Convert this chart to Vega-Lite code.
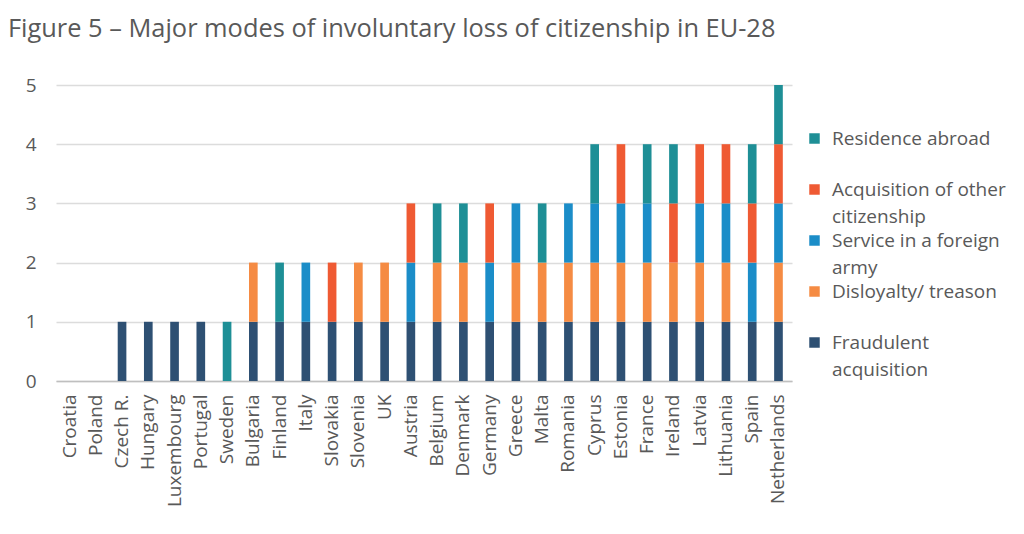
{
  "$schema": "https://vega.github.io/schema/vega-lite/v6.json",
  "width": 736,
  "height": 296,
  "autosize": {"type": "none"},
  "padding": {"left": 56, "top": 85, "right": 232, "bottom": 153},
  "background": "white",
  "title": {
    "text": "Figure 5 – Major modes of involuntary loss of citizenship in EU-28",
    "anchor": "start",
    "frame": "group",
    "dx": -48,
    "offset": 34,
    "font": "Open Sans",
    "fontSize": 25.4,
    "fontWeight": "normal",
    "color": "#595959"
  },
  "config": {
    "view": {"stroke": null},
    "font": "Open Sans"
  },
  "data": {
    "values": [
      {"country": "Czech R.", "mode": "Fraudulent acquisition", "rank": 1, "n": 1},
      {"country": "Hungary", "mode": "Fraudulent acquisition", "rank": 1, "n": 1},
      {"country": "Luxembourg", "mode": "Fraudulent acquisition", "rank": 1, "n": 1},
      {"country": "Portugal", "mode": "Fraudulent acquisition", "rank": 1, "n": 1},
      {"country": "Sweden", "mode": "Residence abroad", "rank": 5, "n": 1},
      {"country": "Bulgaria", "mode": "Fraudulent acquisition", "rank": 1, "n": 1},
      {"country": "Bulgaria", "mode": "Disloyalty/ treason", "rank": 2, "n": 1},
      {"country": "Finland", "mode": "Fraudulent acquisition", "rank": 1, "n": 1},
      {"country": "Finland", "mode": "Residence abroad", "rank": 5, "n": 1},
      {"country": "Italy", "mode": "Fraudulent acquisition", "rank": 1, "n": 1},
      {"country": "Italy", "mode": "Service in a foreign army", "rank": 3, "n": 1},
      {"country": "Slovakia", "mode": "Fraudulent acquisition", "rank": 1, "n": 1},
      {"country": "Slovakia", "mode": "Acquisition of other citizenship", "rank": 4, "n": 1},
      {"country": "Slovenia", "mode": "Fraudulent acquisition", "rank": 1, "n": 1},
      {"country": "Slovenia", "mode": "Disloyalty/ treason", "rank": 2, "n": 1},
      {"country": "UK", "mode": "Fraudulent acquisition", "rank": 1, "n": 1},
      {"country": "UK", "mode": "Disloyalty/ treason", "rank": 2, "n": 1},
      {"country": "Austria", "mode": "Fraudulent acquisition", "rank": 1, "n": 1},
      {"country": "Austria", "mode": "Service in a foreign army", "rank": 3, "n": 1},
      {"country": "Austria", "mode": "Acquisition of other citizenship", "rank": 4, "n": 1},
      {"country": "Belgium", "mode": "Fraudulent acquisition", "rank": 1, "n": 1},
      {"country": "Belgium", "mode": "Disloyalty/ treason", "rank": 2, "n": 1},
      {"country": "Belgium", "mode": "Residence abroad", "rank": 5, "n": 1},
      {"country": "Denmark", "mode": "Fraudulent acquisition", "rank": 1, "n": 1},
      {"country": "Denmark", "mode": "Disloyalty/ treason", "rank": 2, "n": 1},
      {"country": "Denmark", "mode": "Residence abroad", "rank": 5, "n": 1},
      {"country": "Germany", "mode": "Fraudulent acquisition", "rank": 1, "n": 1},
      {"country": "Germany", "mode": "Service in a foreign army", "rank": 3, "n": 1},
      {"country": "Germany", "mode": "Acquisition of other citizenship", "rank": 4, "n": 1},
      {"country": "Greece", "mode": "Fraudulent acquisition", "rank": 1, "n": 1},
      {"country": "Greece", "mode": "Disloyalty/ treason", "rank": 2, "n": 1},
      {"country": "Greece", "mode": "Service in a foreign army", "rank": 3, "n": 1},
      {"country": "Malta", "mode": "Fraudulent acquisition", "rank": 1, "n": 1},
      {"country": "Malta", "mode": "Disloyalty/ treason", "rank": 2, "n": 1},
      {"country": "Malta", "mode": "Residence abroad", "rank": 5, "n": 1},
      {"country": "Romania", "mode": "Fraudulent acquisition", "rank": 1, "n": 1},
      {"country": "Romania", "mode": "Disloyalty/ treason", "rank": 2, "n": 1},
      {"country": "Romania", "mode": "Service in a foreign army", "rank": 3, "n": 1},
      {"country": "Cyprus", "mode": "Fraudulent acquisition", "rank": 1, "n": 1},
      {"country": "Cyprus", "mode": "Disloyalty/ treason", "rank": 2, "n": 1},
      {"country": "Cyprus", "mode": "Service in a foreign army", "rank": 3, "n": 1},
      {"country": "Cyprus", "mode": "Residence abroad", "rank": 5, "n": 1},
      {"country": "Estonia", "mode": "Fraudulent acquisition", "rank": 1, "n": 1},
      {"country": "Estonia", "mode": "Disloyalty/ treason", "rank": 2, "n": 1},
      {"country": "Estonia", "mode": "Service in a foreign army", "rank": 3, "n": 1},
      {"country": "Estonia", "mode": "Acquisition of other citizenship", "rank": 4, "n": 1},
      {"country": "France", "mode": "Fraudulent acquisition", "rank": 1, "n": 1},
      {"country": "France", "mode": "Disloyalty/ treason", "rank": 2, "n": 1},
      {"country": "France", "mode": "Service in a foreign army", "rank": 3, "n": 1},
      {"country": "France", "mode": "Residence abroad", "rank": 5, "n": 1},
      {"country": "Ireland", "mode": "Fraudulent acquisition", "rank": 1, "n": 1},
      {"country": "Ireland", "mode": "Disloyalty/ treason", "rank": 2, "n": 1},
      {"country": "Ireland", "mode": "Acquisition of other citizenship", "rank": 4, "n": 1},
      {"country": "Ireland", "mode": "Residence abroad", "rank": 5, "n": 1},
      {"country": "Latvia", "mode": "Fraudulent acquisition", "rank": 1, "n": 1},
      {"country": "Latvia", "mode": "Disloyalty/ treason", "rank": 2, "n": 1},
      {"country": "Latvia", "mode": "Service in a foreign army", "rank": 3, "n": 1},
      {"country": "Latvia", "mode": "Acquisition of other citizenship", "rank": 4, "n": 1},
      {"country": "Lithuania", "mode": "Fraudulent acquisition", "rank": 1, "n": 1},
      {"country": "Lithuania", "mode": "Disloyalty/ treason", "rank": 2, "n": 1},
      {"country": "Lithuania", "mode": "Service in a foreign army", "rank": 3, "n": 1},
      {"country": "Lithuania", "mode": "Acquisition of other citizenship", "rank": 4, "n": 1},
      {"country": "Spain", "mode": "Fraudulent acquisition", "rank": 1, "n": 1},
      {"country": "Spain", "mode": "Service in a foreign army", "rank": 3, "n": 1},
      {"country": "Spain", "mode": "Acquisition of other citizenship", "rank": 4, "n": 1},
      {"country": "Spain", "mode": "Residence abroad", "rank": 5, "n": 1},
      {"country": "Netherlands", "mode": "Fraudulent acquisition", "rank": 1, "n": 1},
      {"country": "Netherlands", "mode": "Disloyalty/ treason", "rank": 2, "n": 1},
      {"country": "Netherlands", "mode": "Service in a foreign army", "rank": 3, "n": 1},
      {"country": "Netherlands", "mode": "Acquisition of other citizenship", "rank": 4, "n": 1},
      {"country": "Netherlands", "mode": "Residence abroad", "rank": 5, "n": 1}
    ]
  },
  "mark": {"type": "bar"},
  "encoding": {
    "x": {
      "field": "country",
      "type": "nominal",
      "sort": null,
      "scale": {
        "domain": ["Croatia", "Poland", "Czech R.", "Hungary", "Luxembourg", "Portugal", "Sweden", "Bulgaria", "Finland", "Italy", "Slovakia", "Slovenia", "UK", "Austria", "Belgium", "Denmark", "Germany", "Greece", "Malta", "Romania", "Cyprus", "Estonia", "France", "Ireland", "Latvia", "Lithuania", "Spain", "Netherlands"],
        "paddingInner": 0.67,
        "paddingOuter": 0.35
      },
      "axis": {
        "title": null,
        "labelAngle": -90,
        "labelFontSize": 19,
        "labelColor": "#595959",
        "labelPadding": 13,
        "ticks": false,
        "domainColor": "#bfbfbf",
        "domainWidth": 1.5
      }
    },
    "y": {
      "aggregate": "sum",
      "field": "n",
      "type": "quantitative",
      "scale": {"domain": [0, 5], "nice": false},
      "axis": {
        "title": null,
        "values": [0, 1, 2, 3, 4, 5],
        "labelFontSize": 19,
        "labelColor": "#595959",
        "labelPadding": 20,
        "ticks": false,
        "domain": false,
        "gridColor": "#dcdcdc",
        "gridWidth": 1.5
      }
    },
    "color": {
      "field": "mode",
      "type": "nominal",
      "scale": {
        "domain": ["Residence abroad", "Acquisition of other citizenship", "Service in a foreign army", "Disloyalty/ treason", "Fraudulent acquisition"],
        "range": ["#1E8F96", "#EF5A33", "#1B8DC8", "#F58B43", "#2E5073"]
      },
      "legend": {
        "title": null,
        "orient": "none",
        "legendX": 749,
        "legendY": 44,
        "symbolType": "square",
        "symbolSize": 110,
        "symbolStrokeWidth": 0,
        "labelFontSize": 19,
        "labelColor": "#595959",
        "labelBaseline": "top",
        "labelOffset": 8,
        "labelLimit": 300,
        "gridAlign": "all",
        "rowPadding": 4,
        "labelExpr": "datum.label == 'Acquisition of other citizenship' ? ['Acquisition of other', 'citizenship'] : datum.label == 'Service in a foreign army' ? ['Service in a foreign', 'army'] : datum.label == 'Fraudulent acquisition' ? ['Fraudulent', 'acquisition'] : datum.label",
        "encode": {
          "labels": {"update": {"lineHeight": {"value": 27}, "dy": {"value": -9}}}
        }
      }
    },
    "order": {"field": "rank", "type": "quantitative", "sort": "ascending"}
  }
}
